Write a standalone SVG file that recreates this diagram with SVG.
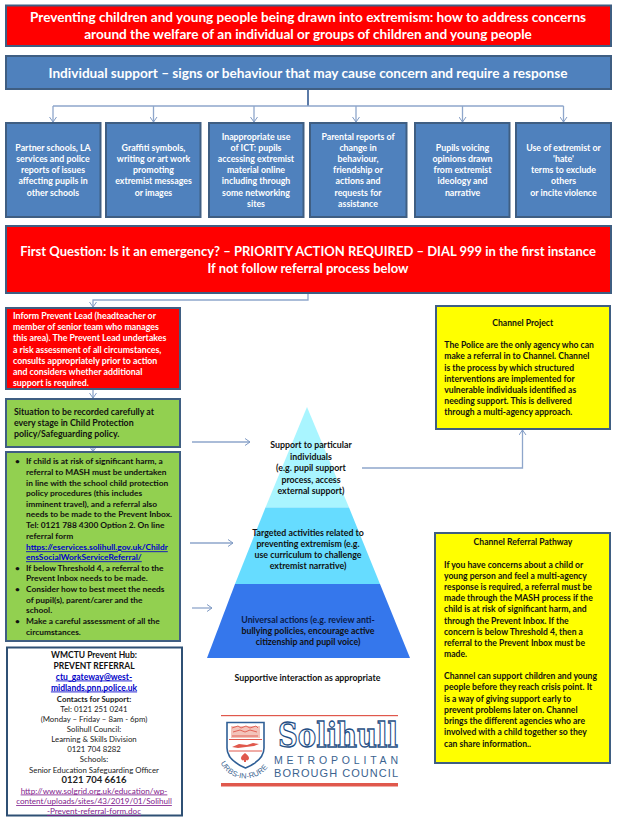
<svg xmlns="http://www.w3.org/2000/svg" width="617" height="819" viewBox="0 0 617 819">
<style>
text{font-family:Lato,"Liberation Sans",sans-serif}
.bx{stroke:#3f5e82;stroke-width:2}
.red{fill:#f00}.blue{fill:#4f81bd}.green{fill:#92d050}.yel{fill:#ff0}
.w{fill:#fff;font-weight:700}
.k{fill:#111;font-weight:700;font-size:8.8px}
.k2{font-size:8.4px}
.k3{font-size:8.6px}
.k4{font-size:8.5px}
.c{text-anchor:middle}
.t{font-size:8.8px}
.h{font-size:13.600px}
.cn{fill:none;stroke:#8ea6cb;stroke-width:1.3}
.link{fill:#0000c8;text-decoration:underline}
.visited{fill:#7f1a8c;text-decoration:underline;font-weight:400;font-size:8.100px}
.s{fill:#222;font-size:7.800px;font-weight:400}
.lg{fill:#3b6390;font-family:"Liberation Sans",sans-serif}
</style>
<defs>
<marker id="a" markerWidth="8" markerHeight="8" refX="6.5" refY="4" orient="auto" markerUnits="userSpaceOnUse"><path d="M1.5 .5L6.5 4L1.5 7.5" fill="none" stroke="#7f9ac4" stroke-width="1"/></marker>
</defs>
<g id="connectors">
<path d="M308 89V106" stroke="#4a6d9f" stroke-width="1.8" fill="none"/>
<path class="cn" d="M53 106H563.500"/>
<path class="cn" d="M53 106V122" marker-end="url(#a)"/>
<path class="cn" d="M153.500 106V122" marker-end="url(#a)"/>
<path class="cn" d="M254 106V122" marker-end="url(#a)"/>
<path class="cn" d="M356 106V122" marker-end="url(#a)"/>
<path class="cn" d="M462.500 106V122" marker-end="url(#a)"/>
<path class="cn" d="M563.500 106V122" marker-end="url(#a)"/>
<path class="cn" d="M308 293V300H93V307" marker-end="url(#a)"/>
<path class="cn" d="M93 389V398" marker-end="url(#a)"/>
<path class="cn" d="M93 447V451.500" marker-end="url(#a)"/>
<path class="cn" d="M192 442H250" marker-end="url(#a)"/>
<path class="cn" d="M190 543H233" marker-end="url(#a)"/>
<path class="cn" d="M192 608H212" marker-end="url(#a)"/>
<path class="cn" d="M362 468H522.500V430" marker-end="url(#a)"/>
</g>
<g id="title"><rect class="bx red" x="6" y="5.500" width="605" height="40.500"/>
<text class="w c h" x="308" y="22">Preventing children and young people being drawn into extremism:  how to address concerns</text>
<text class="w c h" x="308" y="39">around the welfare of an individual or groups of children and young people</text></g>
<g id="individual-support"><rect class="bx blue" x="6" y="56" width="605" height="33"/>
<text class="w c h" x="308" y="78">Individual support – signs or behaviour that may cause concern and require a response</text></g>
<g id="partner"><rect class="bx blue" x="6" y="123" width="94.500" height="94"/>
<g class="w c t"><text x="53" y="151.300">Partner schools, LA</text><text x="53" y="162.300">services and police</text><text x="53" y="173.300">reports of issues</text><text x="53" y="184.300">affecting pupils in</text><text x="53" y="196.300">other schools</text></g></g>
<g id="graffiti"><rect class="bx blue" x="106" y="123" width="94.500" height="94"/>
<g class="w c t"><text x="153.500" y="151.300">Graffiti symbols,</text><text x="153.500" y="162.300">writing or art work</text><text x="153.500" y="173.300">promoting</text><text x="153.500" y="184.300">extremist messages</text><text x="153.500" y="196.300">or images</text></g></g>
<g id="ict"><rect class="bx blue" x="209" y="123" width="94.500" height="94"/>
<g class="w c t"><text x="256" y="140.300">Inappropriate use</text><text x="256" y="151.300">of ICT: pupils</text><text x="256" y="162.300">accessing extremist</text><text x="256" y="173.300">material online</text><text x="256" y="184.300">including through</text><text x="256" y="196.300">some networking</text><text x="256" y="207.300">sites</text></g></g>
<g id="parental"><rect class="bx blue" x="310" y="123" width="96.500" height="94"/>
<g class="w c t"><text x="358" y="140.300">Parental reports of</text><text x="358" y="151.300">change in</text><text x="358" y="162.300">behaviour,</text><text x="358" y="173.300">friendship or</text><text x="358" y="184.300">actions and</text><text x="358" y="196.300">requests for</text><text x="358" y="207.300">assistance</text></g></g>
<g id="voicing"><rect class="bx blue" x="415" y="123" width="94.500" height="94"/>
<g class="w c t"><text x="462.500" y="151.300">Pupils voicing</text><text x="462.500" y="162.300">opinions drawn</text><text x="462.500" y="173.300">from extremist</text><text x="462.500" y="184.300">ideology and</text><text x="462.500" y="196.300">narrative</text></g></g>
<g id="hate"><rect class="bx blue" x="516" y="123" width="95" height="94"/>
<g class="w c t"><text x="563.500" y="151.300">Use of extremist or</text><text x="563.500" y="162.300">'hate'</text><text x="563.500" y="173.300">terms to exclude</text><text x="563.500" y="184.300">others</text><text x="563.500" y="196.300">or incite violence</text></g></g>
<g id="first-question"><rect class="bx red" x="6" y="226" width="605" height="67"/>
<text class="w c" x="308" y="256" font-size="13">First Question: Is it an emergency? – PRIORITY ACTION REQUIRED – DIAL 999 in the first instance</text>
<text class="w c" x="308" y="273" font-size="13">If not follow referral process below</text></g>
<g id="prevent-lead"><rect class="bx red" x="6" y="308" width="174" height="81"/>
<g class="w t"><text x="13" y="318.500">Inform Prevent Lead (headteacher or</text><text x="13" y="329.500">member of senior team who manages</text><text x="13" y="340.500">this area).  The Prevent Lead undertakes</text><text x="13" y="352.500">a risk assessment of all circumstances,</text><text x="13" y="363.500">consults appropriately prior to action</text><text x="13" y="374.500">and considers whether additional</text><text x="13" y="385.500">support is required.</text></g></g>
<g id="record"><rect class="bx green" x="6" y="399" width="174" height="48"/>
<g class="k"><text x="14" y="414.500">Situation to be recorded carefully at</text><text x="14" y="425.500">every stage in Child Protection</text><text x="14" y="437">policy/Safeguarding policy.</text></g></g>
<g id="actions"><rect class="bx green" x="6" y="452" width="174" height="189"/>
<g class="k k2"><text x="15" y="464.300">•</text><text x="26" y="464.300">If child is at risk of significant harm, a</text><text x="26" y="475.300">referral to MASH must be undertaken</text><text x="26" y="486.300">in line with the school child protection</text><text x="26" y="496.300">policy procedures (this includes</text><text x="26" y="507.300">imminent travel), and a referral also</text><text x="26" y="517.300">needs to be made to the Prevent Inbox.</text><text x="26" y="528.300">Tel: 0121 788 4300 Option 2. On line</text><text x="26" y="539.300">referral form</text><text class="link" x="26" y="550.300">https://eservices.solihull.gov.uk/Childr</text><text class="link" x="26" y="560.300">ensSocialWorkServiceReferral/</text><text x="15" y="571.300">•</text><text x="26" y="571.300">If below Threshold 4, a referral to the</text><text x="26" y="581.300">Prevent Inbox needs to be made.</text><text x="15" y="592.300">•</text><text x="26" y="592.300">Consider how to best meet the needs</text><text x="26" y="603.300">of pupil(s), parent/carer and the</text><text x="26" y="613.300">school.</text><text x="15" y="624.300">•</text><text x="26" y="624.300">Make a careful assessment of all the</text><text x="26" y="635.300">circumstances.</text></g></g>
<g id="contacts"><rect x="7" y="647.500" width="175" height="168" fill="#fff" stroke="#2f5074" stroke-width="2"/>
<g class="k k4 c"><text x="94" y="657.500">WMCTU Prevent Hub:</text><text x="94" y="668.500">PREVENT REFERRAL</text><text class="link" x="94" y="679.500">ctu_gateway@west-</text><text class="link" x="94" y="690.500">midlands.pnn.police.uk</text></g>
<g class="c"><text class="s" x="94" y="701.500" style="font-weight:700">Contacts for Support:</text><text class="s" x="94" y="711.500">Tel: 0121 251 0241</text><text class="s" x="94" y="721.500">(Monday – Friday – 8am - 6pm)</text><text class="s" x="94" y="731.500">Solihull Council:</text><text class="s" x="94" y="741.500">Learning &amp; Skills Division</text><text class="s" x="94" y="751.500">0121 704 8282</text><text class="s" x="94" y="762">Schools:</text><text class="s" x="94" y="772.500">Senior Education Safeguarding Officer</text><text x="94" y="782.500" font-size="9.500" fill="#222" font-weight="700">0121 704 6616</text><text class="visited" x="94" y="793.500">http://www.solgrid.org.uk/education/wp-</text><text class="visited" x="94" y="804">content/uploads/sites/43/2019/01/Solihull</text><text class="visited" x="94" y="814">-Prevent-referral-form.doc</text></g></g>
<g id="pyramid">
<path d="M307 407L349 507.500H265.500Z" fill="#a9f5ff"/>
<path d="M265.500 507.500H349L380 584H235Z" fill="#66dcff"/>
<path d="M235 584H380L410 658H207Z" fill="#3577ec"/>
<g class="k c"><text x="311" y="448">Support to particular</text><text x="311" y="459.700">individuals</text><text x="311" y="471.300">(e.g. pupil support</text><text x="311" y="482.700">process, access</text><text x="311" y="493.700">external support)</text>
<text x="308" y="536.300">Targeted activities related to</text><text x="308" y="547.300">preventing extremism (e.g.</text><text x="308" y="558.300">use curriculum to challenge</text><text x="308" y="569">extremist narrative)</text>
<text x="308" y="623" fill="#0b1c4a">Universal actions (e.g. review anti-</text><text x="308" y="634.300">bullying policies, encourage active</text><text x="308" y="645.300">citizenship and pupil voice)</text>
<text x="307.500" y="681.300">Supportive interaction as appropriate</text></g></g>
<g id="channel-project"><rect class="bx yel" x="436" y="306" width="174" height="123"/>
<g class="k k3"><text class="c" x="522.700" y="326.300">Channel Project</text><text x="444.300" y="348">The Police are the only agency who can</text><text x="444.300" y="359.300">make a referral in to Channel.  Channel</text><text x="444.300" y="370.700">is the process by which structured</text><text x="444.300" y="381.700">interventions are implemented for</text><text x="444.300" y="393">vulnerable individuals identified as</text><text x="444.300" y="404">needing support. This is delivered</text><text x="444.300" y="415.300">through a multi-agency approach.</text></g></g>
<g id="channel-pathway"><rect class="bx yel" x="435" y="533" width="175" height="230"/>
<g class="k k3"><text class="c" x="523" y="545.300">Channel Referral Pathway</text><text x="444" y="568">If you have concerns about a child or</text><text x="444" y="579">young person and feel a multi-agency</text><text x="444" y="590.300">response is required, a referral must be</text><text x="444" y="601.300">made through the MASH process if the</text><text x="444" y="612.300">child is at risk of significant harm, and</text><text x="444" y="623.700">through the Prevent Inbox.  If the</text><text x="444" y="635.300">concern is below Threshold 4, then a</text><text x="444" y="646">referral to the Prevent Inbox must be</text><text x="444" y="657">made.</text><text x="444" y="679.300">Channel can support children and young</text><text x="444" y="690.300">people before they reach crisis point. It</text><text x="444" y="702.300">is a way of giving support early to</text><text x="444" y="713">prevent problems later on.  Channel</text><text x="444" y="724">brings the different agencies who are</text><text x="444" y="735.300">involved with a child together so they</text><text x="444" y="746.700">can share information..</text></g></g>
<g id="logo">
<rect x="221" y="715" width="177" height="1.200" fill="#e0584c"/>
<rect x="221" y="783" width="177" height="3.500" fill="#e0584c"/>
<path d="M227 722.500H264V748C264 757 255 764 245.500 768C236 764 227 757 227 748Z" fill="#fff" stroke="#2f5f96" stroke-width="1.600"/>
<path d="M231 726H260V738H231Z" fill="#f3c4bb"/>
<path d="M232 728l6-2 3 2 5-2 4 2 6-2 2 2M233 732l7-2 5 2 5-2 7 2M232 736h26" fill="none" stroke="#e0584c" stroke-width=".9"/>
<path d="M229 739.500H262M229 751H262" stroke="#e0584c" stroke-width="1"/>
<path d="M232 747l7-3 8 1 6-2 6 1-5 2-8 1-8 1z" fill="#e0584c"/>
<path d="M245 753c2 2 4 3 4 5s-2 3-3 2v2h-2v-2c-1 1-3 0-3-2s2-3 4-5z" fill="#e0584c"/>
<path id="motto" d="M220 762C230 784 260 784 271 762" fill="none"/>
<text class="lg" font-size="7.500" letter-spacing=".2"><textPath href="#motto" startOffset="1">URBS-IN-RURE</textPath></text>
<text x="278" y="747" font-size="33" font-weight="700" textLength="120" lengthAdjust="spacingAndGlyphs" style="font-family:'DejaVu Serif',serif;fill:#fff;stroke:#1f4f86;stroke-width:1.300">Solihull</text>
<text class="lg" x="274" y="764" font-size="10.500" textLength="124">METROPOLITAN</text>
<text class="lg" x="274" y="776.500" font-size="11" textLength="124">BOROUGH COUNCIL</text>
</g>
</svg>
